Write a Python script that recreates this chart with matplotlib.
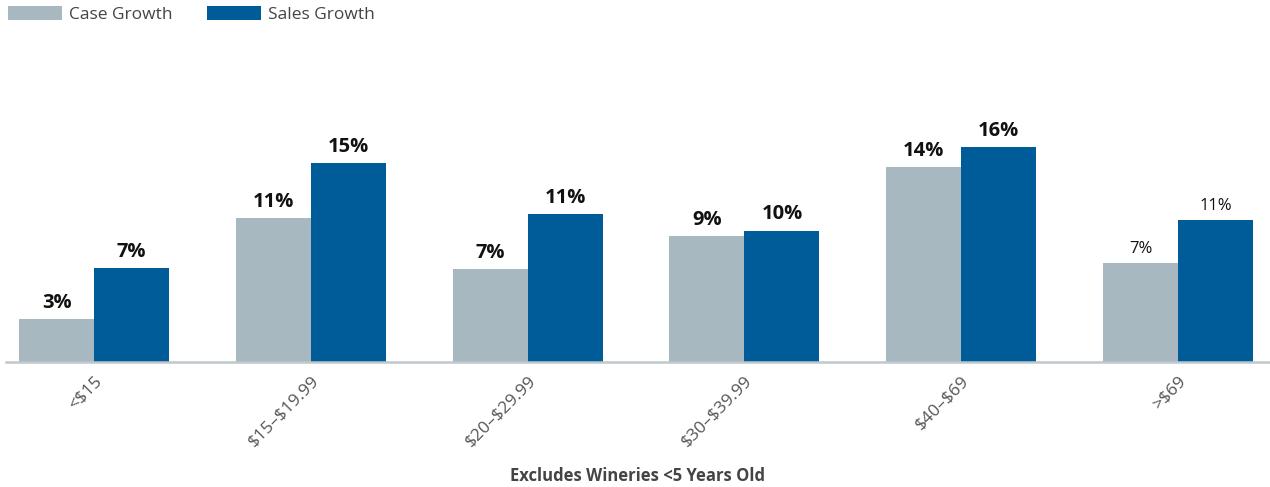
import matplotlib.pyplot as plt
import numpy as np

plt.rcParams['font.family'] = ['Open Sans', 'DejaVu Sans']

# price bands and growth values (%)
categories = ["<\\$15", "\\$15\u2013\\$19.99", "\\$20\u2013\\$29.99", "\\$30\u2013\\$39.99", "\\$40\u2013\\$69", ">\\$69"]
case_growth = [3.2, 10.7, 6.9, 9.4, 14.5, 7.4]
sales_growth = [7.0, 14.8, 11.0, 9.8, 16.0, 10.6]
case_labels = ["3%", "11%", "7%", "9%", "14%", "7%"]
sales_labels = ["7%", "15%", "11%", "10%", "16%", "11%"]

CASE_COLOR = "#A7B8C1"
SALES_COLOR = "#005B99"

fig = plt.figure(figsize=(12.7, 4.87), dpi=100)
ax = fig.add_axes([6 / 1270, 125 / 487, 1264 / 1270, 322 / 487])

x = np.arange(len(categories))
w = 0.346
ax.bar(x - w / 2, case_growth, w, color=CASE_COLOR, label="Case Growth")
ax.bar(x + w / 2, sales_growth, w, color=SALES_COLOR, label="Sales Growth")

# value labels; last group uses regular weight
for i in range(len(categories)):
    last = i == len(categories) - 1
    kw = dict(ha="center", va="bottom", color="#111111",
              fontsize=12 if last else 14.5,
              fontweight="normal" if last else "bold")
    ax.text(x[i] - w / 2, case_growth[i] + 0.45, case_labels[i], **kw)
    ax.text(x[i] + w / 2, sales_growth[i] + 0.45, sales_labels[i], **kw)

ax.set_xlim(-0.406, 5.424)
ax.set_ylim(0, 24)
ax.set_yticks([])
for s in ["top", "right", "left"]:
    ax.spines[s].set_visible(False)
ax.spines["bottom"].set_color("#BFC8CC")
ax.spines["bottom"].set_linewidth(1.8)

ax.set_xticks(x)
ax.set_xticklabels(categories, rotation=45, ha="right", rotation_mode="anchor",
                   fontsize=12.5, color="#555555")
ax.tick_params(axis="x", length=0, pad=8)

fig.legend(loc="upper left", bbox_to_anchor=(-0.006, 1.02), ncol=2, frameon=False,
           fontsize=12.5, handlelength=3.1, handleheight=0.9, handletextpad=0.4,
           columnspacing=2.0, labelcolor="#444444")

fig.text(0.502, 0.005, "Excludes Wineries <5 Years Old", ha="center", va="bottom",
         fontsize=12, fontweight="bold", color="#444444")

fig.savefig("out.png", dpi=100)
